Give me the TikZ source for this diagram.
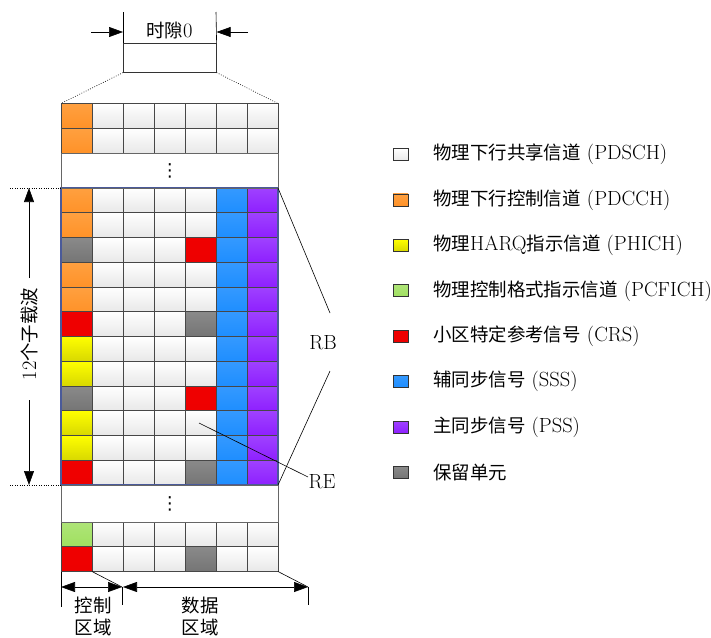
\documentclass[tikz,border=0pt]{standalone}
\usepackage{fontspec}
\newfontfamily\cjk[Scale=0.9]{Noto Sans CJK SC}
\newfontfamily\symf{DejaVu Sans}
\usetikzlibrary{arrows.meta}
\definecolor{cOr}{HTML}{FF9228}
\definecolor{cOrL}{HTML}{FFA040}
\definecolor{cGy}{HTML}{757575}
\definecolor{cRd}{HTML}{EE0000}
\definecolor{cYl}{HTML}{F0F000}
\definecolor{cBl}{HTML}{1E8EFF}
\definecolor{cPu}{HTML}{8E20FF}
\definecolor{cGn}{HTML}{A0E060}
\definecolor{cFrame}{HTML}{4A5A9A}
\tikzset{
  cell/.style={draw=black!72, line width=0.8pt, minimum width=31pt, minimum height=24.75pt,
    inner sep=0pt, outer sep=0pt, anchor=north west},
  cW/.style={top color=white, bottom color=black!9},
  cO/.style={top color=cOrL, bottom color=cOr},
  cG/.style={top color=cGy!85, bottom color=cGy},
  cR/.style={top color=cRd!90!red, bottom color=cRd},
  cY/.style={top color=yellow, bottom color=cYl!90!black},
  cB/.style={top color=cBl!90, bottom color=cBl},
  cP/.style={top color=cPu!85, bottom color=cPu},
  cN/.style={top color=cGn!85, bottom color=cGn},
  legbox/.style={draw=black!80, line width=0.8pt, minimum width=15pt, minimum height=12pt, inner sep=0pt},
  legtext/.style={anchor=west, inner sep=0pt},
  tri/.style={-{Triangle[length=14pt,width=10pt]}, line width=0.6pt},
  bitri/.style={{Triangle[length=14pt,width=10pt]}-{Triangle[length=14pt,width=10pt]}, line width=0.6pt},
  dotline/.style={dash pattern=on 0.8pt off 1.6pt, line width=0.6pt},
  thin line/.style={line width=0.6pt},
  gapbox/.style={draw=black!60, line width=0.8pt, minimum width=217pt, inner sep=0pt, anchor=north west,
    font=\symf\fontsize{18}{20}\selectfont},
}
\begin{document}
\begin{tikzpicture}[x=1pt,y=-1pt,font=\fontsize{20.5}{24}\selectfont]
\useasboundingbox (0,0) rectangle (711,637);
% top rows
\foreach \row [count=\r] in {{O,W,W,W,W,W,W},{O,W,W,W,W,W,W}}{
  \foreach \col [count=\c] in \row {
    \node[cell,c\col] (t\r-\c) at ({61+31*(\c-1)},{103.5+24.75*(\r-1)}) {};
  }
}
% main 12 rows
\foreach \row [count=\r] in {
  {O,W,W,W,W,B,P},{O,W,W,W,W,B,P},{G,W,W,W,R,B,P},{O,W,W,W,W,B,P},
  {O,W,W,W,W,B,P},{R,W,W,W,G,B,P},{Y,W,W,W,W,B,P},{Y,W,W,W,W,B,P},
  {G,W,W,W,R,B,P},{Y,W,W,W,W,B,P},{Y,W,W,W,W,B,P},{R,W,W,W,G,B,P}}{
  \foreach \col [count=\c] in \row {
    \node[cell,c\col] (m\r-\c) at ({61+31*(\c-1)},{188+24.75*(\r-1)}) {};
  }
}
% bottom rows
\foreach \row [count=\r] in {{N,W,W,W,W,W,W},{R,W,W,W,G,W,W}}{
  \foreach \col [count=\c] in \row {
    \node[cell,c\col] (b\r-\c) at ({61+31*(\c-1)},{522+24.75*(\r-1)}) {};
  }
}
% frame of the RB
\draw[cFrame, line width=1.3pt] (m1-1.north west) rectangle (m12-7.south east);
% dots regions
\node[gapbox, minimum height=35pt] (dotsA) at (61,153) {⋮};
\node[gapbox, minimum height=37pt] (dotsB) at (61,485) {⋮};
% slot 0
\node[draw=black!80, thin line, minimum width=93pt, minimum height=29pt, inner sep=0pt, anchor=north west] (slot) at (123,43) {};
\coordinate (slotTL) at (123,12);
\coordinate (slotTR) at (216,12);
\draw[thin line] (slot.north west) -- (slotTL);
\draw[thin line] (slot.north east) -- (slotTR);
\node (slotlbl) at (169.5,31) {{\cjk 时隙}0};
\coordinate (aL) at (91,32);
\coordinate (aR) at (248,32);
\draw[tri] (aL) -- (slot.north west |- aL);
\draw[tri] (aR) -- (slot.north east |- aR);
\draw[dotline] (slot.south west) -- (t1-1.north west);
\draw[dotline] (slot.south east) -- (t1-7.north east);
% 12 subcarriers
\coordinate (dlT) at (10,188);
\coordinate (dlB) at (10,485);
\draw[dotline] (dlT) -- (m1-1.north west);
\draw[dotline] (dlB) -- (m12-1.south west);
\node[rotate=90] (sc) at (29,334) {12{\cjk 个子载波}};
\coordinate (scU) at (29,278);
\coordinate (scD) at (29,400);
\draw[tri] (scU) -- (29,188);
\draw[tri] (scD) -- (29,485);
% RB / RE
\node (RB) at (323,343) {RB};
\coordinate (rbA) at (330,313);
\coordinate (rbB) at (330,371);
\draw[thin line] (m1-7.north east) -- (rbA);
\draw[thin line] (rbB) -- (m12-7.south east);
\node (RE) at (322,482) {RE};
\coordinate (reIn) at (199,423);
\coordinate (reEnd) at (308,477);
\draw[thin line] (reIn) -- (reEnd);
% bottom regions
\coordinate (bc1) at (122,587);
\coordinate (bc2) at (308,587);
\draw[thin line] (b2-2.south west) -- (bc1);
\draw[thin line] (b2-7.south east) -- (bc2);
\draw[thin line] (b2-1.south west) -- (61,607);
\draw[thin line] (bc1) -- (122,605);
\draw[thin line] (bc2) -- (308,605);
\draw[bitri] (61,587) -- (bc1);
\draw[bitri] (123,587) -- (bc2);
\node (ctl1) at (93,605) {\cjk 控制};
\node (ctl2) at (93,627) {\cjk 区域};
\node (dat1) at (200,605) {\cjk 数据};
\node (dat2) at (200,627) {\cjk 区域};
% legend
\foreach \sty/\txt [count=\k] in {
  W/{{\cjk 物理下行共享信道} (PDSCH)},
  O/{{\cjk 物理下行控制信道} (PDCCH)},
  Y/{{\cjk 物理}HARQ{\cjk 指示信道} (PHICH)},
  N/{{\cjk 物理控制格式指示信道} (PCFICH)},
  R/{{\cjk 小区特定参考信号} (CRS)},
  B/{{\cjk 辅同步信号} (SSS)},
  P/{{\cjk 主同步信号} (PSS)},
  G/{{\cjk 保留单元}}}{
  \node[legbox,c\sty] (lb\k) at (400.5,{154.5+45.43*(\k-1)}) {};
  \node[legtext] (lt\k) at (433,{154.5+45.43*(\k-1)}) {\txt};
}
\end{tikzpicture}
\end{document}
